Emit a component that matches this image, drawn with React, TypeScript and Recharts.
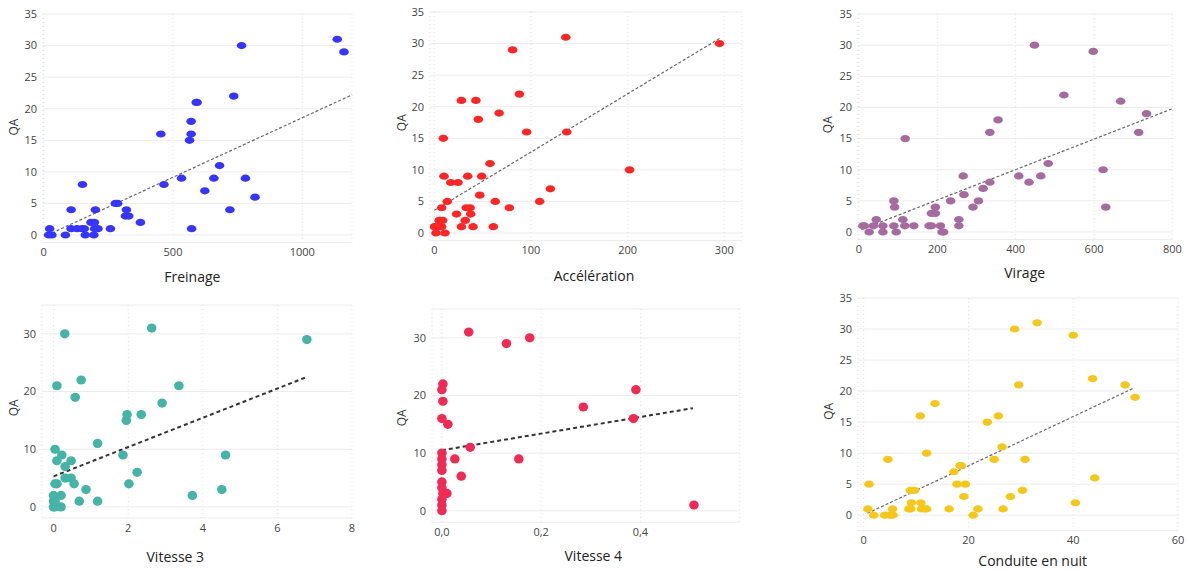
import React from 'react';
import { CartesianGrid, ReferenceLine, Scatter, ScatterChart, XAxis, YAxis } from 'recharts';

// QA against each driving indicator (one dot per driver)
const freinageX = [23, 19, 32, 84, 106, 106, 129, 150, 148, 157, 161, 183, 196, 200, 197, 210, 194, 258, 277, 286, 320, 316, 329, 374, 453, 465, 533, 564, 570, 570, 590, 593, 572, 623, 658, 680, 720, 735, 765, 780, 817, 1135, 1161];
const freinageQA = [1, 0, 0, 0, 4, 1, 1, 8, 1, 1, 0, 2, 2, 4, 1, 1, 0, 1, 5, 5, 4, 3, 3, 2, 16, 8, 9, 15, 16, 18, 21, 21, 1, 7, 9, 11, 4, 22, 30, 9, 6, 31, 29];
const freinageTrendX = [15, 1192];
const freinageTrendQA = [0, 22.2];

const accelX = [0, 1.7, 2.4, 5, 7.6, 7.6, 8.6, 9.3, 11, 10, 13.4, 17, 23, 24.5, 28, 28, 32, 33, 34.5, 37, 37.6, 40, 43, 45.5, 47, 49, 57.6, 61, 63, 67, 77.6, 81, 88, 95.5, 109, 120, 136, 137, 202, 295, 4, 6];
const accelQA = [1, 0, 1, 2, 1, 4, 2, 15, 0, 9, 5, 8, 3, 8, 21, 1, 2, 4, 9, 4, 3, 1, 21, 18, 6, 9, 11, 1, 5, 19, 4, 29, 22, 16, 5, 7, 31, 16, 10, 30, 1, 2];
const accelTrendX = [0, 295];
const accelTrendQA = [3.6, 30.8];

const virageX = [10, 14, 26, 37, 44, 61, 61, 89, 91, 89, 95, 112, 117, 118, 140, 179, 185, 185, 195, 195, 208, 212, 216, 234, 255, 255, 266, 268, 291, 305, 317, 334, 334, 355, 408, 434, 448, 464, 483, 523, 598, 623, 630, 668, 714, 734];
const virageQA = [1, 1, 0, 1, 2, 1, 0, 5, 4, 1, 0, 2, 1, 15, 1, 1, 1, 3, 3, 4, 1, 0, 0, 5, 2, 1, 9, 6, 4, 5, 7, 16, 8, 18, 9, 8, 30, 9, 11, 22, 29, 10, 4, 21, 16, 19];
const virageTrendX = [6, 800];
const virageTrendQA = [0.4, 19.8];

const vit3X = [0, 0, 0, 0.04, 0.09, 0.04, 0.04, 0.09, 0.2, 0.2, 0.22, 0.31, 0.31, 0.47, 0.47, 0.55, 0.69, 0.87, 1.18, 0.3, 0.09, 0.58, 0.74, 1.18, 1.86, 1.95, 1.97, 2.02, 2.24, 2.35, 2.63, 2.91, 3.36, 3.72, 4.51, 4.61, 6.79, 0.03, 0.01];
const vit3QA = [0, 1, 2, 1, 4, 4, 10, 8, 2, 0, 9, 7, 5, 5, 8, 4, 1, 3, 1, 30, 21, 19, 22, 11, 9, 15, 16, 4, 6, 16, 31, 18, 21, 2, 3, 9, 29, 0, 1];
const vit3TrendX = [0, 6.74];
const vit3TrendQA = [5.3, 22.4];

const vit4X = [0.054, 0.13, 0.177, 0.002, 0, 0.002, 0, 0.012, 0.057, 0.026, 0.039, 0.01, 0.155, 0.285, 0.386, 0.391, 0.508, 0, 0, 0, 0, 0, 0, 0.002, 0, 0, 0];
const vit4QA = [31, 29, 30, 22, 21, 19, 16, 15, 11, 9, 6, 3, 9, 18, 16, 21, 1, 10, 9, 8, 7, 5, 4, 3, 2, 1, 0];
const vit4TrendX = [0, 0.506];
const vit4TrendQA = [10.5, 17.8];

const nuitX = [0.8, 1, 1.9, 4, 4.6, 5, 5.6, 5.5, 8.6, 9, 8.9, 9.7, 9.1, 10.8, 10.9, 11, 11.6, 12, 12, 13.6, 16.3, 17.2, 17.8, 18.4, 18.6, 19.1, 19.4, 20.9, 21.8, 23.6, 24.9, 25.7, 26.6, 26.4, 28, 28.8, 29.6, 30.3, 30.8, 33.1, 40, 40.4, 43.7, 44.1, 49.9, 51.8];
const nuitQA = [1, 5, 0, 0, 9, 0, 0, 1, 1, 1, 4, 4, 2, 16, 2, 1, 1, 1, 10, 18, 1, 7, 5, 8, 8, 3, 5, 0, 1, 15, 9, 16, 1, 11, 3, 30, 21, 4, 9, 31, 29, 2, 22, 6, 21, 19];
const nuitTrendX = [0.7, 51.6];
const nuitTrendQA = [0.3, 20.5];

const ticks5 = [0, 5, 10, 15, 20, 25, 30, 35];
const ticks10 = [0, 10, 20, 30];

const FONT = '"Open Sans", sans-serif';
const AX_W = 45; // y axis width
const AX_H = 58; // x axis height (ticks + title)
const M_TOP = 10;
const M_RIGHT = 12;

type PanelCfg = {
  title: string;
  xs: number[];
  ys: number[];
  tx: number[];
  ty: number[];
  color: string;
  xDomain: [number, number];
  xTicks: number[];
  yMin: number;
  yTicks: number[];
  plot: { left: number; top: number; right: number; bottom: number };
  qa: [number, number];
  titlePos: [number, number];
  rx: number;
  ry: number;
  trendStroke: string;
  trendWidth: number;
  trendDash: string;
  fmt?: (v: number) => string;
};

const panels: PanelCfg[] = [
  {
    title: 'Freinage', xs: freinageX, ys: freinageQA, tx: freinageTrendX, ty: freinageTrendQA,
    color: '#3535fc', xDomain: [-2.6, 1192], xTicks: [0, 500, 1000], yMin: -1.2, yTicks: ticks5,
    plot: { left: 42.7, top: 14, right: 351.7, bottom: 242.6 }, qa: [13, 127], titlePos: [192, 277],
    rx: 4.8, ry: 3.6, trendStroke: '#666', trendWidth: 1.2, trendDash: '3 2',
  },
  {
    title: 'Accélération', xs: accelX, ys: accelQA, tx: accelTrendX, ty: accelTrendQA,
    color: '#fd2626', xDomain: [-4.5, 318], xTicks: [0, 100, 200, 300], yMin: -1.2, yTicks: ticks5,
    plot: { left: 430, top: 12.3, right: 741.7, bottom: 240.9 }, qa: [401.7, 123], titlePos: [594, 276.7],
    rx: 4.8, ry: 3.6, trendStroke: '#666', trendWidth: 1.2, trendDash: '3 2',
  },
  {
    title: 'Virage', xs: virageX, ys: virageQA, tx: virageTrendX, ty: virageTrendQA,
    color: '#a56b9e', xDomain: [-2.5, 800], xTicks: [0, 200, 400, 600, 800], yMin: -1.2, yTicks: ticks5,
    plot: { left: 858.3, top: 14.3, right: 1172.7, bottom: 239.8 }, qa: [828.3, 125], titlePos: [1025, 273],
    rx: 4.8, ry: 3.6, trendStroke: '#666', trendWidth: 1.2, trendDash: '3 2',
  },
  {
    title: 'Vitesse 3', xs: vit3X, ys: vit3QA, tx: vit3TrendX, ty: vit3TrendQA,
    color: '#45b3a6', xDomain: [-0.31, 8], xTicks: [0, 2, 4, 6, 8], yMin: -1.9, yTicks: ticks10,
    plot: { left: 41.7, top: 305.1, right: 351.7, bottom: 518 }, qa: [13, 408], titlePos: [175, 557],
    rx: 4.8, ry: 4.6, trendStroke: '#333', trendWidth: 2, trendDash: '4 3',
  },
  {
    title: 'Vitesse 4', xs: vit4X, ys: vit4QA, tx: vit4TrendX, ty: vit4TrendQA,
    color: '#ef2a54', xDomain: [-0.02, 0.6], xTicks: [0, 0.2, 0.4], yMin: -2, yTicks: ticks10,
    plot: { left: 431.7, top: 309.2, right: 739.3, bottom: 522.5 }, qa: [401.7, 418], titlePos: [593, 556.7],
    rx: 4.8, ry: 4.6, trendStroke: '#333', trendWidth: 2, trendDash: '4 3',
    fmt: (v: number) => v.toFixed(1).replace('.', ','),
  },
  {
    title: 'Conduite en nuit', xs: nuitX, ys: nuitQA, tx: nuitTrendX, ty: nuitTrendQA,
    color: '#f5c71a', xDomain: [-1.1, 60], xTicks: [0, 20, 40, 60], yMin: -2.5, yTicks: ticks5,
    plot: { left: 858.3, top: 298.3, right: 1178.3, bottom: 531 }, qa: [828.3, 411.7], titlePos: [1033, 561.5],
    rx: 4.8, ry: 3.6, trendStroke: '#666', trendWidth: 1.2, trendDash: '3 2',
  },
];

function Panel({ cfg }: { cfg: PanelCfg }) {
  const { plot } = cfg;
  const boxLeft = plot.left - AX_W;
  const boxTop = plot.top - M_TOP;
  const width = plot.right - plot.left + AX_W + M_RIGHT;
  const height = plot.bottom - plot.top + M_TOP + AX_H;
  const data = cfg.xs.map((x, i) => ({ x, y: cfg.ys[i] }));

  const qx = cfg.qa[0] - boxLeft;
  const qy = cfg.qa[1] - boxTop;
  const qaLabel = () => (
    <text x={qx} y={qy} transform={`rotate(-90 ${qx} ${qy})`} textAnchor="middle" dominantBaseline="central"
      fontSize={12} fill="#333" fontFamily={FONT}>
      QA
    </text>
  );
  const titleLabel = () => (
    <text x={cfg.titlePos[0] - boxLeft} y={cfg.titlePos[1] + 5 - boxTop} textAnchor="middle"
      fontSize={14} fill="#222" fontFamily={FONT}>
      {cfg.title}
    </text>
  );
  const dot = (p: any) => <ellipse cx={p.cx} cy={p.cy} rx={cfg.rx} ry={cfg.ry} fill={cfg.color} />;
  const tick = { fontSize: 11, fill: '#444', fontFamily: FONT };

  return (
    <div style={{ position: 'absolute', left: boxLeft, top: boxTop }}>
      <ScatterChart width={width} height={height} margin={{ top: M_TOP, right: M_RIGHT, bottom: 0, left: 0 }}>
        <CartesianGrid horizontal vertical={false} stroke="#ececec" />
        <CartesianGrid horizontal={false} vertical stroke="#e0e0e0" strokeDasharray="1 3" />
        <XAxis type="number" dataKey="x" domain={cfg.xDomain} ticks={cfg.xTicks} allowDataOverflow interval={0}
          axisLine={false} tickLine={false} tickSize={4} tickMargin={2} height={AX_H} tick={tick}
          tickFormatter={cfg.fmt} label={titleLabel} />
        <YAxis type="number" dataKey="y" domain={[cfg.yMin, 35]} ticks={cfg.yTicks} allowDataOverflow interval={0}
          axisLine={false} tickLine={false} tickSize={4} tickMargin={2} width={AX_W} tick={tick} label={qaLabel} />
        <Scatter data={data} fill={cfg.color} shape={dot} isAnimationActive={false} />
        <ReferenceLine
          segment={[{ x: cfg.tx[0], y: cfg.ty[0] }, { x: cfg.tx[1], y: cfg.ty[1] }]}
          stroke={cfg.trendStroke} strokeWidth={cfg.trendWidth} strokeDasharray={cfg.trendDash} />
      </ScatterChart>
    </div>
  );
}

export default function App() {
  return (
    <div style={{ position: 'absolute', left: 0, top: 0, width: 1189, height: 572, overflow: 'hidden', background: '#fff', fontFamily: FONT }}>
      {panels.map((p) => (
        <Panel key={p.title} cfg={p} />
      ))}
    </div>
  );
}
